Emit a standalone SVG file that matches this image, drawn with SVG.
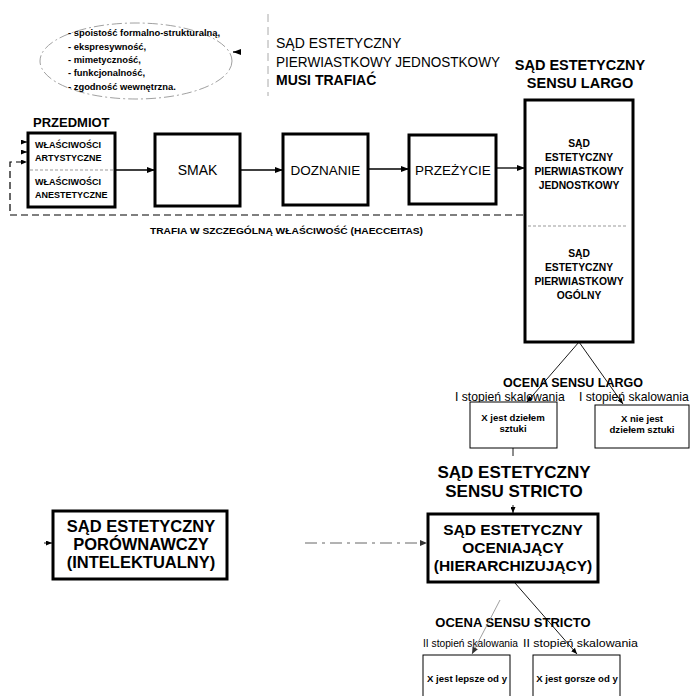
<svg xmlns="http://www.w3.org/2000/svg" width="692" height="696" viewBox="0 0 692 696">
<defs>
<marker id="ah" markerWidth="8" markerHeight="6" refX="8" refY="3" orient="auto" markerUnits="userSpaceOnUse"><path d="M0,0 L8,3 L0,6 Z" fill="#000"/></marker>
<marker id="ahs" markerWidth="6" markerHeight="5" refX="6" refY="2.5" orient="auto" markerUnits="userSpaceOnUse"><path d="M0,0 L6,2.5 L0,5 Z" fill="#000"/></marker>
<marker id="ahg" markerWidth="7" markerHeight="6" refX="7" refY="3" orient="auto" markerUnits="userSpaceOnUse"><path d="M0,0 L7,3 L0,6 Z" fill="#333"/></marker>
</defs>
<style>
text{font-family:"Liberation Sans",Arial,sans-serif;fill:#000}
.b{font-weight:bold}
.m{text-anchor:middle}
.box{fill:#fff;stroke:#000;stroke-width:3}
.thin{fill:#fff;stroke:#000;stroke-width:1}
.ln{stroke:#000;stroke-width:1.3;fill:none}
.tl{stroke:#000;stroke-width:0.9;fill:none}
.dash{stroke:#000;stroke-width:1.2;fill:none;stroke-dasharray:7 4}
.div{stroke:#999;stroke-width:1;stroke-dasharray:3 2}
.s9{font-size:9px}
.sb{font-size:9.6px}
.bx{font-size:10.3px}
</style>
<rect width="692" height="696" fill="#fff"/>

<g id="features">
<ellipse cx="136" cy="61" rx="96" ry="38" fill="none" stroke="#888" stroke-width="0.8" stroke-dasharray="10 3 2 3"/>
<text class="b" font-size="9.4" x="68" y="36">- spoistość formalno-strukturalną,</text>
<text class="b" font-size="9.4" x="68" y="50">- ekspresywność,</text>
<text class="b" font-size="9.4" x="68" y="63">- mimetyczność,</text>
<text class="b" font-size="9.4" x="68" y="76">- funkcjonalność,</text>
<text class="b" font-size="9.4" x="68" y="90">- zgodność wewnętrzna.</text>
</g>

<g id="musi-trafiac">
<line x1="268" y1="14" x2="268" y2="96" stroke="#aaa" stroke-width="1" stroke-dasharray="8 5"/>
<text font-size="14" x="276" y="48">SĄD ESTETYCZNY</text>
<text font-size="14" x="276" y="67" textLength="224" lengthAdjust="spacingAndGlyphs">PIERWIASTKOWY JEDNOSTKOWY</text>
<text class="b" font-size="14" x="276" y="85">MUSI TRAFIAĆ</text>
</g>

<g id="sensu-largo-title">
<text class="b m" font-size="14.5" x="580" y="70">SĄD ESTETYCZNY</text>
<text class="b m" font-size="14.5" x="580" y="88">SENSU LARGO</text>
</g>

<g id="przedmiot">
<text class="b" font-size="13" x="33" y="127">PRZEDMIOT</text>
<rect class="box" x="28" y="133" width="87" height="74"/>
<line class="div" x1="30" y1="170" x2="113" y2="170"/>
<text class="b s9" x="35" y="148">WŁAŚCIWOŚCI</text>
<text class="b s9" x="35" y="161">ARTYSTYCZNE</text>
<text class="b s9" x="35" y="185">WŁAŚCIWOŚCI</text>
<text class="b s9" x="35" y="198">ANESTETYCZNE</text>
</g>

<g id="smak">
<rect class="box" x="155" y="134" width="85" height="72"/>
<text class="m" font-size="14" x="197.5" y="175">SMAK</text>
</g>

<g id="doznanie">
<rect class="box" x="283" y="134" width="85" height="71"/>
<text class="m" font-size="13.5" x="325.5" y="175">DOZNANIE</text>
</g>

<g id="przezycie">
<rect class="box" x="409" y="135" width="87" height="69"/>
<text class="m" font-size="13.5" x="453" y="175">PRZEŻYCIE</text>
</g>

<g id="sad-largo">
<rect class="box" x="525" y="100" width="108" height="242"/>
<line class="div" x1="528" y1="226" x2="628" y2="226"/>
<text class="b m bx" x="579" y="147">SĄD</text>
<text class="b m bx" x="579" y="161">ESTETYCZNY</text>
<text class="b m bx" x="579" y="175">PIERWIASTKOWY</text>
<text class="b m bx" x="579" y="189">JEDNOSTKOWY</text>
<text class="b m bx" x="579" y="257">SĄD</text>
<text class="b m bx" x="579" y="271">ESTETYCZNY</text>
<text class="b m bx" x="579" y="285">PIERWIASTKOWY</text>
<text class="b m bx" x="579" y="299">OGÓLNY</text>
</g>

<g id="trafia-label">
<text class="b" font-size="9.5" x="150" y="234" textLength="273" lengthAdjust="spacingAndGlyphs">TRAFIA W SZCZEGÓLNĄ WŁAŚCIWOŚĆ (HAECCEITAS)</text>
</g>

<g id="ocena-largo">
<text class="b m" font-size="12.5" x="573" y="387">OCENA SENSU LARGO</text>
<text font-size="12.2" x="455" y="401">I stopień skalowania</text>
<text font-size="12.2" x="579" y="401">I stopień skalowania</text>
</g>

<g id="jest-dzielem">
<rect class="thin" x="470" y="402" width="87" height="46"/>
<text class="b m sb" x="513" y="421">X jest dziełem</text>
<text class="b m sb" x="513" y="432">sztuki</text>
</g>

<g id="nie-jest-dzielem">
<rect class="thin" x="595" y="405" width="94" height="43"/>
<text class="b m sb" x="642" y="422">X nie jest</text>
<text class="b m sb" x="642" y="433">dziełem sztuki</text>
</g>

<g id="sensu-stricto-title">
<text class="b m" font-size="17" x="514" y="478">SĄD ESTETYCZNY</text>
<text class="b m" font-size="17" x="514" y="497">SENSU STRICTO</text>
</g>

<g id="porownawczy">
<rect class="box" x="53" y="511" width="174" height="68"/>
<text class="b m" font-size="16.5" x="141" y="532">SĄD ESTETYCZNY</text>
<text class="b m" font-size="16.5" x="141" y="550">PORÓWNAWCZY</text>
<text class="b m" font-size="16.5" x="141" y="568">(INTELEKTUALNY)</text>
</g>

<g id="oceniajacy">
<rect class="box" x="428" y="514" width="170" height="68"/>
<text class="b m" font-size="15.5" x="513" y="535">SĄD ESTETYCZNY</text>
<text class="b m" font-size="15.5" x="513" y="553">OCENIAJĄCY</text>
<text class="b m" font-size="15.5" x="513" y="571">(HIERARCHIZUJĄCY)</text>
</g>

<g id="ocena-stricto">
<text class="b m" font-size="13" x="513" y="627">OCENA SENSU STRICTO</text>
<text font-size="11.5" x="423" y="647" textLength="95" lengthAdjust="spacingAndGlyphs">II stopień skalowania</text>
<text font-size="11.5" x="523" y="647" textLength="115" lengthAdjust="spacingAndGlyphs">II stopień skalowania</text>
</g>

<g id="lepsze">
<rect class="thin" x="423" y="655" width="87" height="45"/>
<text class="b m sb" x="467" y="682">X jest lepsze od y</text>
</g>

<g id="gorsze">
<rect class="thin" x="533" y="655" width="87" height="45"/>
<text class="b m sb" x="577" y="682">X jest gorsze od y</text>
</g>

<g id="connectors">
<path d="M241,52 L233,52" class="ln" marker-end="url(#ah)"/>
<line class="ln" x1="115" y1="170" x2="155" y2="170" marker-end="url(#ah)"/>
<line class="ln" x1="240" y1="170" x2="283" y2="170" marker-end="url(#ah)"/>
<line class="ln" x1="368" y1="169" x2="409" y2="169" marker-end="url(#ah)"/>
<line class="ln" x1="496" y1="168" x2="525" y2="168" marker-end="url(#ah)"/>
<path class="dash" d="M523,215 H10 V162 H27" marker-end="url(#ahs)"/>
<line class="tl" x1="21" y1="142" x2="27" y2="142" marker-end="url(#ahs)"/>
<line class="tl" x1="21" y1="152" x2="27" y2="152" marker-end="url(#ahs)"/>
<line class="tl" x1="579" y1="342" x2="527" y2="402" marker-end="url(#ahs)"/>
<line class="tl" x1="579" y1="342" x2="623" y2="404" marker-end="url(#ahs)"/>
<line class="tl" x1="513" y1="448" x2="513" y2="456"/>
<line class="tl" x1="513" y1="505" x2="513" y2="513" marker-end="url(#ahs)"/>
<line class="tl" x1="44" y1="543" x2="52" y2="543" marker-end="url(#ahs)"/>
<line x1="305" y1="543" x2="427" y2="543" stroke="#666" stroke-width="1" stroke-dasharray="12 5 3 5" marker-end="url(#ahg)"/>
<line class="tl" x1="515" y1="583" x2="577" y2="654" marker-end="url(#ahs)"/>
<line x1="500" y1="600" x2="472" y2="654" stroke="#888" stroke-width="0.8" marker-end="url(#ahg)"/>
</g>
</svg>
